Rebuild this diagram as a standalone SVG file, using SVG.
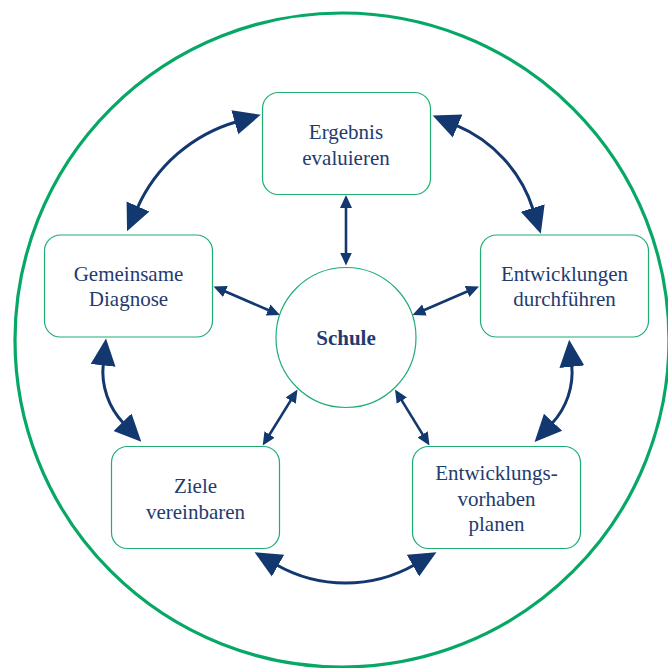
<svg xmlns="http://www.w3.org/2000/svg" width="668" height="668" viewBox="0 0 668 668">
<style>
.node{fill:#ffffff;stroke:#1eae73;stroke-width:1.2}
.lbl{font-family:"Liberation Serif","Times New Roman",serif;font-size:21px;fill:#1f3b70;text-anchor:middle}
.bold{font-weight:bold}
.curve{fill:none;stroke:#12386f;stroke-width:3}
.straight{fill:none;stroke:#12386f;stroke-width:2.6}
</style>
<defs>
<marker id="big" markerUnits="userSpaceOnUse" markerWidth="30" markerHeight="30" refX="2" refY="12.5" orient="auto-start-reverse" viewBox="0 0 30 25">
<path d="M0,0 L27,12.5 L0,25 z" fill="#12386f"/>
</marker>
<marker id="small" markerUnits="userSpaceOnUse" markerWidth="16" markerHeight="14" refX="2" refY="6" orient="auto-start-reverse" viewBox="0 0 16 12">
<path d="M0,0 L13,6 L0,12 z" fill="#12386f"/>
</marker>
</defs>
<rect width="668" height="668" fill="#ffffff"/>
<circle id="outer" cx="342" cy="340" r="327" fill="none" stroke="#07a866" stroke-width="3.2"/>
<g id="connectors">
<path class="curve" d="M137.2,208.3 A156,156 0 0 1 236.7,121.7" marker-start="url(#big)" marker-end="url(#big)"/>
<path class="curve" d="M455.8,125.2 A136,136 0 0 1 533.3,210" marker-start="url(#big)" marker-end="url(#big)"/>
<path class="curve" d="M571.7,364.7 A75,75 0 0 1 551.7,423.7" marker-start="url(#big)" marker-end="url(#big)"/>
<path class="curve" d="M414.7,564.7 A140,140 0 0 1 276.3,564.7" marker-start="url(#big)" marker-end="url(#big)"/>
<path class="curve" d="M123.9,423.7 A75,75 0 0 1 103.3,363.4" marker-start="url(#big)" marker-end="url(#big)"/>
<path class="straight" d="M346,206 L346,254.5" marker-start="url(#small)" marker-end="url(#small)"/>
<path class="straight" d="M223.6,290.8 L269.9,310.7" marker-start="url(#small)" marker-end="url(#small)"/>
<path class="straight" d="M468.9,290.8 L422.6,310.7" marker-start="url(#small)" marker-end="url(#small)"/>
<path class="straight" d="M268.5,436.2 L291.7,398.9" marker-start="url(#small)" marker-end="url(#small)"/>
<path class="straight" d="M423.7,436.1 L400.8,398.9" marker-start="url(#small)" marker-end="url(#small)"/>
</g>
<g id="schule">
<circle class="node" cx="346" cy="337.5" r="70"/>
<text class="lbl bold" x="346" y="345">Schule</text>
</g>
<g id="ergebnis">
<rect class="node" x="262.5" y="92.5" width="168" height="102" rx="16"/>
<text class="lbl" x="346" y="139">Ergebnis</text>
<text class="lbl" x="346" y="165">evaluieren</text>
</g>
<g id="diagnose">
<rect class="node" x="44.5" y="235" width="168" height="102" rx="16"/>
<text class="lbl" x="128.5" y="281">Gemeinsame</text>
<text class="lbl" x="128.5" y="306">Diagnose</text>
</g>
<g id="durchfuehren">
<rect class="node" x="480.5" y="235" width="168" height="102" rx="16"/>
<text class="lbl" x="564.5" y="281">Entwicklungen</text>
<text class="lbl" x="564.5" y="306">durchführen</text>
</g>
<g id="ziele">
<rect class="node" x="111.5" y="446.5" width="168" height="102" rx="16"/>
<text class="lbl" x="195.5" y="493">Ziele</text>
<text class="lbl" x="195.5" y="518.5">vereinbaren</text>
</g>
<g id="vorhaben">
<rect class="node" x="412.5" y="446.5" width="168" height="102" rx="16"/>
<text class="lbl" x="496.5" y="480">Entwicklungs-</text>
<text class="lbl" x="496.5" y="505.5">vorhaben</text>
<text class="lbl" x="496.5" y="531">planen</text>
</g>
</svg>
